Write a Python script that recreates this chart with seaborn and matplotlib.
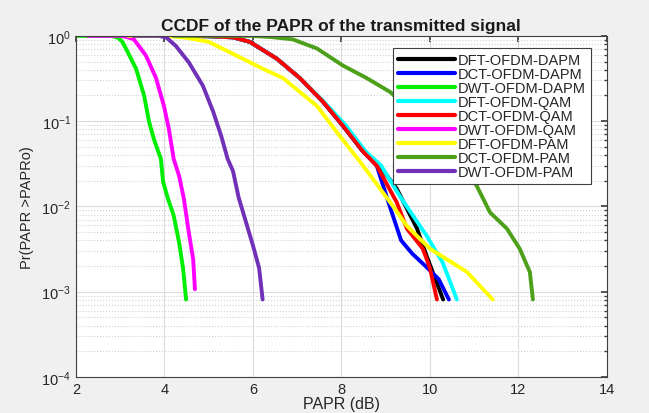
import numpy as np
import pandas as pd
import matplotlib
matplotlib.use('Agg')
import matplotlib.pyplot as plt
import matplotlib.ticker as mticker
import seaborn as sns

## Curve data (PAPR in dB, CCDF probability)
names = ['DFT-OFDM-DAPM', 'DCT-OFDM-DAPM', 'DWT-OFDM-DAPM',
         'DFT-OFDM-QAM', 'DCT-OFDM-QAM', 'DWT-OFDM-QAM',
         'DFT-OFDM-PAM', 'DCT-OFDM-PAM', 'DWT-OFDM-PAM']

dft_dapm_x = [4.1, 5.0, 5.55, 5.93, 6.54, 7.06, 7.58, 8.03, 8.49, 8.80, 9.25, 9.71, 9.93, 10.3]
dft_dapm_y = [1, 0.99, 0.96, 0.85, 0.54, 0.32, 0.17, 0.089, 0.044, 0.033, 0.0162, 0.0055, 0.0026, 0.00081]

dct_dapm_x = [4.0, 5.0, 5.55, 5.93, 6.54, 7.06, 7.58, 8.03, 8.49, 8.80, 9.1, 9.35, 9.6, 9.9, 10.2, 10.43]
dct_dapm_y = [1, 0.99, 0.96, 0.85, 0.54, 0.32, 0.17, 0.089, 0.044, 0.030, 0.0098, 0.0040, 0.0028, 0.0020, 0.0014, 0.00081]

dwt_dapm_x = [2.0, 2.8, 2.95, 3.05, 3.13, 3.36, 3.54, 3.65, 3.76, 3.92, 3.97, 4.08, 4.21, 4.33, 4.42, 4.49]
dwt_dapm_y = [1, 1, 0.95, 0.85, 0.71, 0.41, 0.20, 0.10, 0.062, 0.036, 0.0195, 0.0123, 0.0078, 0.0038, 0.0019, 0.00081]

dft_qam_x = [3.9, 5.0, 5.55, 5.93, 6.54, 7.06, 7.6, 8.1, 8.55, 8.9, 9.32, 9.93, 10.29, 10.61]
dft_qam_y = [1, 0.99, 0.96, 0.85, 0.54, 0.32, 0.17, 0.089, 0.044, 0.030, 0.0132, 0.0045, 0.0022, 0.00081]

dct_qam_x = [4.2, 5.0, 5.55, 5.93, 6.54, 7.06, 7.58, 8.03, 8.49, 8.80, 9.25, 9.48, 9.84, 10.0, 10.16]
dct_qam_y = [1, 0.99, 0.96, 0.85, 0.54, 0.32, 0.17, 0.089, 0.044, 0.030, 0.0112, 0.0055, 0.0032, 0.0019, 0.00081]

dwt_qam_x = [2.27, 3.0, 3.15, 3.31, 3.58, 3.81, 3.99, 4.10, 4.21, 4.33, 4.44, 4.55, 4.65, 4.69]
dwt_qam_y = [1, 1, 0.97, 0.91, 0.59, 0.32, 0.15, 0.081, 0.036, 0.023, 0.0123, 0.0050, 0.0024, 0.00107]

dft_pam_x = [3.18, 4.03, 4.5, 5.0, 5.62, 6.23, 6.68, 7.45, 7.9, 8.45, 9.16, 9.48, 10.0, 10.84, 11.42]
dft_pam_y = [1, 1, 0.95, 0.85, 0.59, 0.41, 0.32, 0.15, 0.074, 0.032, 0.0102, 0.0059, 0.0032, 0.0017, 0.00081]

dct_pam_x = [4.2, 5.93, 6.4, 6.9, 7.45, 8.03, 8.57, 9.10, 9.77, 10.52, 11.06, 11.36, 11.74, 12.03, 12.26, 12.33]
dct_pam_y = [1, 1, 0.97, 0.91, 0.71, 0.45, 0.32, 0.22, 0.107, 0.047, 0.0174, 0.0085, 0.0055, 0.0032, 0.0017, 0.00081]

dwt_pam_x = [3.29, 3.88, 4.05, 4.26, 4.55, 4.87, 5.10, 5.28, 5.43, 5.55, 5.68, 5.80, 6.0, 6.14, 6.22]
dwt_pam_y = [1, 1, 0.95, 0.76, 0.49, 0.26, 0.13, 0.068, 0.036, 0.026, 0.0126, 0.0078, 0.0035, 0.0019, 0.00081]

xs = [dft_dapm_x, dct_dapm_x, dwt_dapm_x, dft_qam_x, dct_qam_x, dwt_qam_x, dft_pam_x, dct_pam_x, dwt_pam_x]
ys = [dft_dapm_y, dct_dapm_y, dwt_dapm_y, dft_qam_y, dct_qam_y, dwt_qam_y, dft_pam_y, dct_pam_y, dwt_pam_y]

colors = ['#000000', '#0000ff', '#00ee00', '#00ffff', '#ff0000',
          '#ff00ff', '#ffff00', '#4da01a', '#7030b8']

## Build long dataframe
frames = []
for name, x, y in zip(names, xs, ys):
    frames.append(pd.DataFrame({'scheme': name, 'papr': x, 'ccdf': y}))
df = pd.concat(frames, ignore_index=True)

## Figure
sns.set_theme(style='white')
plt.rcParams['font.family'] = ['Liberation Sans', 'DejaVu Sans']

fig = plt.figure(figsize=(6.49, 4.14), dpi=100, facecolor='#f0f0f0')
ax = fig.add_axes([0.117, 0.087, 0.818, 0.824])
ax.set_facecolor('white')

sns.lineplot(data=df, x='papr', y='ccdf', hue='scheme', hue_order=names,
             palette=dict(zip(names, colors)), sort=False, estimator=None,
             linewidth=2.8, ax=ax)

ax.set_yscale('log')
ax.set_xlim(2, 14)
ax.set_ylim(1e-4, 1)
ax.set_xticks([2, 4, 6, 8, 10, 12, 14])
ax.yaxis.set_major_locator(mticker.LogLocator(base=10, numticks=10))
ax.yaxis.set_minor_locator(mticker.LogLocator(base=10, subs=np.arange(2, 10), numticks=20))
ax.yaxis.set_minor_formatter(mticker.NullFormatter())

# Grid
ax.grid(True, which='major', color='#dcdcdc', linestyle='-', linewidth=0.8)
ax.grid(True, which='minor', axis='y', color='#d0d0d0', linestyle=':', linewidth=0.8)
ax.set_axisbelow(True)

# Box and ticks on all sides
for s in ax.spines.values():
    s.set_color('#404040')
    s.set_linewidth(0.8)
ax.tick_params(which='both', direction='in', top=True, right=True, colors='#404040',
               labelcolor='#262626', labelsize=10.5)
ax.tick_params(which='major', length=4)
ax.tick_params(which='minor', length=2)

ax.set_title('CCDF of the PAPR of the transmitted signal', fontsize=12.5,
             fontweight='bold', color='#1a1a1a', pad=4)
ax.set_xlabel('PAPR (dB)', fontsize=11.5, color='#262626', labelpad=0)
ax.set_ylabel('Pr(PAPR >PAPRo)', fontsize=10.5, color='#262626', labelpad=5)

leg = ax.legend(loc='upper right', bbox_to_anchor=(0.970, 0.965), fontsize=10.5,
                frameon=True, fancybox=False, edgecolor='#404040', framealpha=1,
                labelspacing=0.0, handlelength=3.9, handletextpad=0.2,
                borderpad=0.35, borderaxespad=0.0)
leg.get_frame().set_linewidth(0.8)
for h in leg.legend_handles:
    h.set_linewidth(3.0)

plt.savefig('out.png', dpi=100, facecolor=fig.get_facecolor())
